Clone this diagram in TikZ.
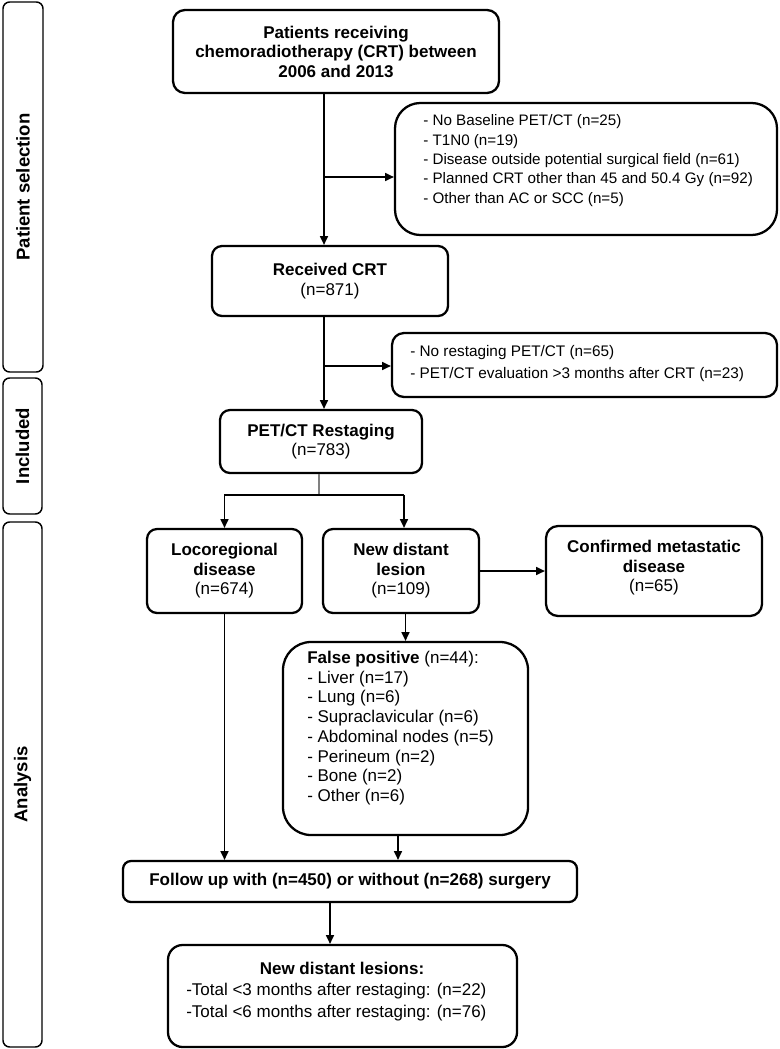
\documentclass[tikz,border=0pt]{standalone}
\usepackage{fontspec}
\setmainfont{Liberation Sans}
\usetikzlibrary{arrows.meta}
\tikzset{
  box/.style={draw=black, line width=1.7pt, rounded corners=7.5pt, inner sep=0pt, fill=white},
  sidebox/.style={draw=black, line width=1.1pt, rounded corners=5pt, inner sep=0pt},
  sidetxt/.style={rotate=90, font=\fontsize{13.9}{16}\selectfont\bfseries},
  ctxt/.style={align=center, inner sep=0pt, font=\fontsize{12.75}{14.6}\selectfont},
  ltxt/.style={align=left, inner sep=0pt, anchor=west},
  conn/.style={line width=1.1pt, -{Triangle[length=6.5pt,width=6pt]}},
  plain/.style={line width=1.1pt},
}
\begin{document}
\begin{tikzpicture}[x=0.75pt,y=-0.75pt]
\useasboundingbox (0,0) rectangle (779,1049);
% side panels
\node[sidebox, minimum width=40*0.75pt, minimum height=370*0.75pt] (ps) at (23,187) {};
\node[sidetxt] (pst) at (ps.center) {Patient selection};
\node[sidebox, minimum width=39*0.75pt, minimum height=136*0.75pt] (inc) at (22.5,446) {};
\node[sidetxt] (inct) at (inc.center) {Included};
\node[sidebox, minimum width=39*0.75pt, minimum height=525*0.75pt] (ana) at (22.5,784.5) {};
\node[sidetxt] (anat) at (ana.center) {Analysis};
% boxes
\node[box, minimum width=326*0.75pt, minimum height=83*0.75pt, rounded corners=9pt] (top) at (336,51.5) {};
\node[ctxt, font=\fontsize{12.75}{14.6}\selectfont\bfseries] (topt) at (top.center) {Patients receiving\\chemoradiotherapy (CRT) between\\2006 and 2013};
\node[box, minimum width=382*0.75pt, minimum height=132*0.75pt, rounded corners=19pt] (ex1) at (586,169) {};
\node[ltxt, font=\fontsize{11.4}{14.5}\selectfont] (ex1t) at (423,160.5) {- No Baseline PET/CT (n=25)\\- T1N0 (n=19)\\- Disease outside potential surgical field (n=61)\\- Planned CRT other than 45 and 50.4 Gy (n=92)\\- Other than AC or SCC (n=5)};
\node[box, minimum width=236*0.75pt, minimum height=70*0.75pt] (rcv) at (330,281) {};
\node[ctxt] (rcvt) at (rcv.center) {\textbf{Received CRT}\\(n=871)};
\node[box, minimum width=385*0.75pt, minimum height=64*0.75pt, rounded corners=9pt] (ex2) at (584.5,365) {};
\node[ltxt, font=\fontsize{11.5}{15.8}\selectfont] (ex2t) at (410,363.5) {- No restaging PET/CT (n=65)\\- PET/CT evaluation >3 months after CRT (n=23)};
\node[box, minimum width=202*0.75pt, minimum height=63*0.75pt] (pet) at (321,441.5) {};
\node[ctxt] (pett) at (pet.center) {\textbf{PET/CT Restaging}\\(n=783)};
\node[box, minimum width=155*0.75pt, minimum height=84*0.75pt] (loco) at (224.5,571) {};
\node[ctxt] (locot) at (loco.center) {\textbf{Locoregional}\\\textbf{disease}\\(n=674)};
\node[box, minimum width=156*0.75pt, minimum height=84*0.75pt] (nd) at (401,571) {};
\node[ctxt] (ndt) at (nd.center) {\textbf{New distant}\\\textbf{lesion}\\(n=109)};
\node[box, minimum width=216*0.75pt, minimum height=90*0.75pt, rounded corners=9pt] (conf) at (654,571) {};
\node[ctxt] (conft) at (654,568) {\textbf{Confirmed metastatic}\\\textbf{disease}\\(n=65)};
\node[box, minimum width=245*0.75pt, minimum height=193*0.75pt, rounded corners=21pt] (fp) at (405.5,738.5) {};
\node[ltxt, font=\fontsize{12.75}{14.8}\selectfont] (fpt) at (307,728) {\textbf{False positive} (n=44):\\- Liver (n=17)\\- Lung (n=6)\\- Supraclavicular (n=6)\\- Abdominal nodes (n=5)\\- Perineum (n=2)\\- Bone (n=2)\\- Other (n=6)};
\node[box, minimum width=454*0.75pt, minimum height=41*0.75pt, rounded corners=6pt] (fol) at (350,881.5) {};
\node[ctxt, font=\fontsize{12.75}{14.6}\selectfont\bfseries] (folt) at (fol.center) {Follow up with (n=450) or without (n=268) surgery};
\node[box, minimum width=349*0.75pt, minimum height=102*0.75pt, rounded corners=11pt] (ndl) at (342.5,996) {};
\node[ctxt, font=\fontsize{12.75}{14.6}\selectfont\bfseries] (ndlt) at (342,968) {New distant lesions:};
\node[ltxt, font=\fontsize{12.75}{16.9}\selectfont] (ndll) at (186,1002) {-Total <3 months after restaging: (n=22)\\-Total <6 months after restaging: (n=76)};
% connectors
\coordinate (c1) at (324,177);
\coordinate (c2) at (324,366);
\coordinate (c3) at (319,495);
\coordinate (cr) at (404,495);
\coordinate (c4) at (398,850);
\coordinate (c5) at (330,920);
\draw[conn] (c1 |- top.south) -- (c1 |- rcv.north);
\draw[conn] (c1) -- (c1 -| ex1.west);
\draw[conn] (c2 |- rcv.south) -- (c2 |- pet.north);
\draw[conn] (c2) -- (c2 -| ex2.west);
\draw[line width=0.8pt, gray] (c3 |- pet.south) -- (c3);
\draw[conn] (c3) -| (loco.north);
\draw[plain] (c3) -- (cr);
\draw[conn] (cr) -- (cr |- nd.north);
\draw[conn] (nd.east) -- (conf.west);
\draw[conn] (fp.north |- nd.south) -- (fp.north);
\draw[conn] (loco.south) -- (loco.south |- fol.north);
\draw[conn] (c4 |- fp.south) -- (c4 |- fol.north);
\draw[conn] (c5 |- fol.south) -- (c5 |- ndl.north);
\end{tikzpicture}
\end{document}
